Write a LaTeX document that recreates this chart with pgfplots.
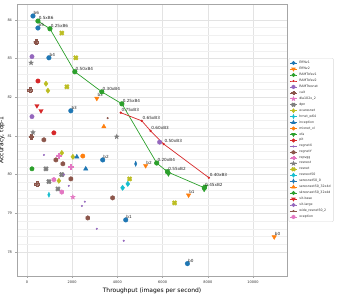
\documentclass[border=0pt]{standalone}
\usepackage{fontspec}
\setmainfont{DejaVu Sans}
\usepackage{pgfplots}
\pgfplotsset{compat=1.18}
\definecolor{c0}{HTML}{1F77B4}
\definecolor{c1}{HTML}{FF7F0E}
\definecolor{c2}{HTML}{2CA02C}
\definecolor{c3}{HTML}{D62728}
\definecolor{c4}{HTML}{9467BD}
\definecolor{c5}{HTML}{8C564B}
\definecolor{c6}{HTML}{E377C2}
\definecolor{c7}{HTML}{7F7F7F}
\definecolor{c8}{HTML}{BCBD22}
\definecolor{c9}{HTML}{17BECF}
\makeatletter
\pgfdeclareplotmark{hexagon*}{%
  \pgfpathmoveto{\pgfqpointpolar{90}{\pgfplotmarksize}}%
  \pgfpathlineto{\pgfqpointpolar{150}{\pgfplotmarksize}}%
  \pgfpathlineto{\pgfqpointpolar{210}{\pgfplotmarksize}}%
  \pgfpathlineto{\pgfqpointpolar{270}{\pgfplotmarksize}}%
  \pgfpathlineto{\pgfqpointpolar{330}{\pgfplotmarksize}}%
  \pgfpathlineto{\pgfqpointpolar{30}{\pgfplotmarksize}}%
  \pgfpathclose\pgfusepathqfillstroke}
\pgfdeclareplotmark{fstar}{%
  \pgfpathmoveto{\pgfqpointpolar{90}{\pgfplotmarksize}}%
  \pgfpathlineto{\pgfqpointpolar{126}{0.4\pgfplotmarksize}}%
  \pgfpathlineto{\pgfqpointpolar{162}{\pgfplotmarksize}}%
  \pgfpathlineto{\pgfqpointpolar{198}{0.4\pgfplotmarksize}}%
  \pgfpathlineto{\pgfqpointpolar{234}{\pgfplotmarksize}}%
  \pgfpathlineto{\pgfqpointpolar{270}{0.4\pgfplotmarksize}}%
  \pgfpathlineto{\pgfqpointpolar{306}{\pgfplotmarksize}}%
  \pgfpathlineto{\pgfqpointpolar{342}{0.4\pgfplotmarksize}}%
  \pgfpathlineto{\pgfqpointpolar{18}{\pgfplotmarksize}}%
  \pgfpathlineto{\pgfqpointpolar{54}{0.4\pgfplotmarksize}}%
  \pgfpathclose\pgfusepathqfillstroke}
\pgfdeclareplotmark{Pplus}{%
  \pgfpathmoveto{\pgfqpoint{-0.35\pgfplotmarksize}{\pgfplotmarksize}}%
  \pgfpathlineto{\pgfqpoint{0.35\pgfplotmarksize}{\pgfplotmarksize}}%
  \pgfpathlineto{\pgfqpoint{0.35\pgfplotmarksize}{0.35\pgfplotmarksize}}%
  \pgfpathlineto{\pgfqpoint{\pgfplotmarksize}{0.35\pgfplotmarksize}}%
  \pgfpathlineto{\pgfqpoint{\pgfplotmarksize}{-0.35\pgfplotmarksize}}%
  \pgfpathlineto{\pgfqpoint{0.35\pgfplotmarksize}{-0.35\pgfplotmarksize}}%
  \pgfpathlineto{\pgfqpoint{0.35\pgfplotmarksize}{-\pgfplotmarksize}}%
  \pgfpathlineto{\pgfqpoint{-0.35\pgfplotmarksize}{-\pgfplotmarksize}}%
  \pgfpathlineto{\pgfqpoint{-0.35\pgfplotmarksize}{-0.35\pgfplotmarksize}}%
  \pgfpathlineto{\pgfqpoint{-\pgfplotmarksize}{-0.35\pgfplotmarksize}}%
  \pgfpathlineto{\pgfqpoint{-\pgfplotmarksize}{0.35\pgfplotmarksize}}%
  \pgfpathlineto{\pgfqpoint{-0.35\pgfplotmarksize}{0.35\pgfplotmarksize}}%
  \pgfpathclose\pgfusepathqfillstroke}
\pgfdeclareplotmark{Xcross}{%
  \pgftransformrotate{45}%
  \pgfuseplotmark{Pplus}}
\makeatother
\begin{document}
\begin{tikzpicture}
\useasboundingbox (-17pt,-17pt) rectangle (326pt,276pt);
\begin{axis}[
  scale only axis, width=270pt, height=272pt,
  xmin=-442, xmax=11505, ymin=77.38, ymax=84.41,
  xtick={0,2000,4000,6000,8000,10000},
  ytick={78,79,80,81,82,83,84},
  minor y tick num=4,
  scaled x ticks=false,
  xticklabel style={/pgf/number format/1000 sep={}},
  /pgf/number format/assume math mode=true,
  tick label style={font=\fontsize{3.5}{4}\selectfont, text=black!80},
  label style={font=\fontsize{6}{7}\selectfont},
  xlabel={Throughput (images per second)},
  ylabel={Accuracy, top-1},
  xlabel style={yshift=3pt},
  ylabel style={yshift=-4pt},
  grid=both,
  major grid style={gray!22, line width=0.5pt},
  minor grid style={gray!12, line width=0.35pt},
  axis line style={gray!70, line width=0.5pt},
  tick style={gray!70, line width=0.4pt},
  tick align=outside, tick pos=left,
  major tick length=1.5pt, minor tick length=0pt,
  legend style={at={(1.006,0.5)}, anchor=west, font=\fontsize{3.2}{3.4}\selectfont,
    draw=gray!30, rounded corners=1pt, inner sep=0.8pt, row sep=-1.95pt,
    legend cell align=left, text=black!80},
  legend image code/.code={\draw[mark repeat=2,mark phase=2,#1] plot coordinates {(0pt,0pt) (3.5pt,0pt) (7pt,0pt)};},
  every node near coord/.style={font=\fontsize{4.2}{5}\selectfont, text=black!85, anchor=base west, xshift=0.5pt, yshift=1.5pt, inner sep=0pt},
]
% legend images
\addlegendimage{c0, line width=0.7pt, mark=*, mark size=1.6pt}\addlegendentry{EffNv1}
\addlegendimage{c1, line width=0.7pt, mark=triangle*, mark size=1.9pt, mark options={rotate=180}}\addlegendentry{EffNv2}
\addlegendimage{c2, line width=0.7pt, mark=*, mark size=1.6pt}\addlegendentry{RAMTofev1}
\addlegendimage{c3, line width=0.7pt, mark=*, mark size=0.7pt}\addlegendentry{RAMTofev2}
\addlegendimage{c4, line width=0.7pt, mark=hexagon*, mark size=1.7pt}\addlegendentry{RAMTresnet}
\addlegendimage{c5, line width=0.7pt, mark=Pplus, mark size=1.7pt}\addlegendentry{cait}
\addlegendimage{c6, line width=0.7pt, mark=fstar, mark size=1.9pt}\addlegendentry{dla102x\_2}
\addlegendimage{c7, line width=0.7pt, mark=Xcross, mark size=1.8pt}\addlegendentry{dpn}
\addlegendimage{c8, line width=0.7pt, mark=diamond*, mark size=1.9pt}\addlegendentry{ecaresnet}
\addlegendimage{c9, line width=0.7pt, mark=diamond*, mark size=1.9pt, mark options={xscale=0.6}}\addlegendentry{hrnet\_w64}
\addlegendimage{c0, line width=0.7pt, mark=triangle*, mark size=1.9pt}\addlegendentry{inception}
\addlegendimage{c1, line width=0.7pt, mark=*, mark size=1.6pt}\addlegendentry{mixnet\_xl}
\addlegendimage{c2, line width=0.7pt, mark=triangle*, mark size=1.9pt, mark options={rotate=180}}\addlegendentry{ofa}
\addlegendimage{c3, line width=0.7pt, mark=*, mark size=1.6pt}\addlegendentry{pit}
\addlegendimage{c4, line width=0.7pt, mark=*, mark size=0.7pt}\addlegendentry{regnetX}
\addlegendimage{c5, line width=0.7pt, mark=hexagon*, mark size=1.7pt}\addlegendentry{regnetY}
\addlegendimage{c6, line width=0.7pt, mark=Pplus, mark size=1.7pt}\addlegendentry{repvgg}
\addlegendimage{c7, line width=0.7pt, mark=fstar, mark size=1.9pt}\addlegendentry{resnest}
\addlegendimage{c8, line width=0.7pt, mark=Xcross, mark size=1.8pt}\addlegendentry{resnet}
\addlegendimage{c9, line width=0.7pt, mark=diamond*, mark size=1.9pt}\addlegendentry{resnext50}
\addlegendimage{c0, line width=0.7pt, mark=diamond*, mark size=1.9pt, mark options={xscale=0.6}}\addlegendentry{seresnet50\_0}
\addlegendimage{c1, line width=0.7pt, mark=triangle*, mark size=1.9pt}\addlegendentry{seresnext50\_32x4d}
\addlegendimage{c2, line width=0.7pt, mark=*, mark size=1.6pt}\addlegendentry{skresnext50\_32x4d}
\addlegendimage{c3, line width=0.7pt, mark=triangle*, mark size=1.9pt, mark options={rotate=180}}\addlegendentry{vit-base}
\addlegendimage{c4, line width=0.7pt, mark=*, mark size=1.6pt}\addlegendentry{vit-large}
\addlegendimage{c5, line width=0.7pt, mark=*, mark size=0.7pt}\addlegendentry{wide\_resnet50\_2}
\addlegendimage{c6, line width=0.7pt, mark=hexagon*, mark size=1.7pt}\addlegendentry{xception}

% data
\pgfplotsset{mk/.style={forget plot, only marks, draw=#1, fill=#1, mark options={draw=#1, fill=#1}}}
% cait
\addplot[mk=c5, mark=Pplus, mark size=2.3pt] coordinates {(400,83.43) (130,82.19) (180,80.98) (440,79.76)};
% dla
\addplot[mk=c6, mark=fstar, mark size=2.4pt] coordinates {(2030,79.42)};
% dpn
\addplot[mk=c7, mark=Xcross, mark size=2.4pt] coordinates {(840,80.15) (1540,80.00) (970,79.82) (1370,79.63)};
% ecaresnet
\addplot[mk=c8, mark=diamond*, mark size=2.6pt] coordinates {(840,82.35) (925,82.17) (1540,80.56) (2030,80.46) (1410,79.84)};
% hrnet
\addplot[mk=c9, mark=diamond*, mark size=2.6pt, mark options={xscale=0.6}] coordinates {(970,79.48)};
% inception
\addplot[mk=c0, mark=triangle*, mark size=2.5pt] coordinates {(2205,80.46) (2600,80.15)};
% mixnet
\addplot[mk=c1, mark=*, mark size=2.2pt] coordinates {(2470,80.48)};
% pit
\addplot[mk=c3, mark=*, mark size=2.2pt] coordinates {(485,82.42) (1190,81.08)};
% regnetX
\addplot[mk=c4, mark=*, mark size=0.8pt] coordinates {(750,80.51) (1630,80.00) (1850,79.71) (2560,79.30) (2430,79.19) (3090,78.60) (4280,78.29)};
% regnetY
\addplot[mk=c5, mark=hexagon*, mark size=2.3pt] coordinates {(750,80.90) (1280,80.38) (1590,80.28) (1940,79.89) (2690,78.88) (3790,79.40)};
% repvgg
\addplot[mk=c6, mark=Pplus, mark size=2.3pt] coordinates {(1410,80.49) (1940,80.20)};
% resnest
\addplot[mk=c7, mark=fstar, mark size=2.4pt] coordinates {(180,82.89) (265,81.09) (3970,80.98)};
% resnet
\addplot[mk=c8, mark=Xcross, mark size=2.4pt] coordinates {(1540,83.66) (2160,83.02) (1765,82.27) (4540,79.89) (6530,79.27)};
% resnext50
\addplot[mk=c9, mark=diamond*, mark size=2.6pt] coordinates {(4230,79.66) (4460,79.76)};
% seresnet
\addplot[mk=c0, mark=diamond*, mark size=2.6pt, mark options={xscale=0.6}] coordinates {(4810,80.28)};
% seresnext
\addplot[mk=c1, mark=triangle*, mark size=2.5pt] coordinates {(3400,81.24)};
% skresnext
\addplot[mk=c2, mark=*, mark size=2.2pt] coordinates {(220,80.15)};
% vit-base
\addplot[mk=c3, mark=triangle*, mark size=2.5pt, mark options={rotate=180}] coordinates {(440,81.78) (620,81.65)};
% vit-large
\addplot[mk=c4, mark=*, mark size=2.2pt] coordinates {(220,83.05) (220,81.50)};
% wide resnet
\addplot[mk=c5, mark=*, mark size=0.8pt] coordinates {(3570,81.46)};
% xception
\addplot[mk=c6, mark=hexagon*, mark size=2.3pt] coordinates {(1190,79.87) (1540,79.55)};
% RAMTresnet
\addplot[mk=c4, mark=hexagon*, mark size=2.3pt] coordinates {(5870,80.84)};
% EffNv1
\addplot[mk=c0, mark=*, mark size=2.3pt, nodes near coords, point meta=explicit symbolic] table[meta=l] {
x y l
265 84.10 b6
485 83.79 b5
970 83.02 b4
1940 81.65 b3
3350 80.38 b2
4370 78.83 b1
7100 77.70 b0
};
% EffNv2
\addplot[mk=c1, mark=triangle*, mark size=2.5pt, mark options={rotate=180}, nodes near coords, point meta=explicit symbolic] table[meta=l] {
x y l
3090 81.97 b3
5250 80.23 b2
7150 79.47 b1
10940 78.39 b0
};
% ofa
\addplot[mk=c2, mark=triangle*, mark size=2.5pt, mark options={rotate=180}] coordinates {(6200,80.10) (6260,80.02) (7840,79.62) (7900,79.70)};
% RAMTofev1
\addplot[forget plot, c2, line width=0.7pt, mark=*, mark size=2.2pt, nodes near coords, point meta=explicit symbolic] table[meta=l] {
x y l
485 83.97 0.5xB6
1015 83.77 0.25xB6
2117 82.66 0.50xB4
3310 82.14 0.30xB4
4200 81.83 0.25xB4
5740 80.30 0.20xB4
6220 80.07 0.55xB2
7850 79.66 0.45xB2
};
% RAMTofev2
\addplot[forget plot, c3, line width=0.7pt, mark=*, mark size=0.8pt, nodes near coords, point meta=explicit symbolic] table[meta=l] {
x y l
4150 81.60 0.75xB3
5080 81.39 0.65xB3
5470 81.13 0.60xB3
6050 80.79 0.50xB3
8050 79.92 0.40xB3
};
\end{axis}
\end{tikzpicture}
\end{document}
